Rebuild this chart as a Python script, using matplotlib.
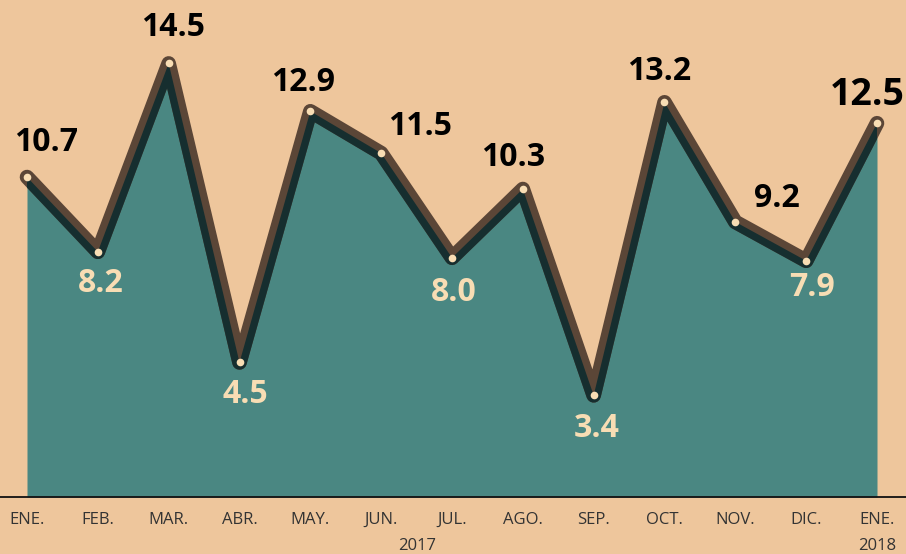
import matplotlib
matplotlib.use("Agg")
import matplotlib.pyplot as plt
import numpy as np

# ---------------------------------------------------------
# Data
# ---------------------------------------------------------
months = ["ENE.", "FEB.", "MAR.", "ABR.", "MAY.", "JUN.", "JUL.",
          "AGO.", "SEP.", "OCT.", "NOV.", "DIC.", "ENE."]
values = [10.7, 8.2, 14.5, 4.5, 12.9, 11.5, 8.0, 10.3, 3.4, 13.2, 9.2, 7.9, 12.5]
years = ["2017", "2018"]

# label placement (points offset from marker), above/below colour
label_offsets = [(14, 25), (2, -23), (3, 26), (4, -23), (-5, 21), (28, 19),
                 (1, -25), (-7, 23), (2, -24), (-4, 22), (30, 17), (4, -19), (-7, 20)]
label_below = [False, True, False, True, False, False, True,
               False, True, False, False, True, False]

BG = "#EEC69C"
FILL = "#4A8782"
BROWN = "#5B4637"
DARK = "#162E2F"
CREAM = "#F8DDB4"

plt.rcParams["font.family"] = ["Open Sans", "DejaVu Sans"]

fig = plt.figure(figsize=(9.06, 5.54), dpi=100, facecolor=BG)
ax = fig.add_axes([0, 57 / 554, 1, 497 / 554], facecolor=BG)

x = np.arange(len(values))
area = ax.fill_between(x, 0, values, color=FILL, lw=0, zorder=1)

# thick brown stroke; the half that lies inside the area is dark
ax.plot(x, values, color=BROWN, lw=10.5, solid_joinstyle="round",
        solid_capstyle="round", zorder=2)
inner, = ax.plot(x, values, color=DARK, lw=10.5, solid_joinstyle="round",
                 solid_capstyle="round", zorder=3)
inner.set_clip_path(area.get_paths()[0], ax.transData)
ax.plot(x, values, "o", color=CREAM, ms=5.5, mew=0, zorder=4)

for i, v in enumerate(values):
    dx, dy = label_offsets[i]
    last = i == len(values) - 1
    ax.annotate(f"{v:.1f}", (i, v), xytext=(dx, dy), textcoords="offset points",
                ha="center", va="center", fontweight="bold",
                fontsize=27 if last else 23,
                color=CREAM if label_below[i] else "black", zorder=5)

ax.set_xlim(-27 / 70.83, 12 + 29 / 70.83)
ax.set_ylim(0, 16.62)
ax.set_xticks(x)
ax.set_xticklabels(months, fontsize=12, color="#333333")
ax.tick_params(axis="x", length=0, pad=11)
ax.set_yticks([])
for s in ["left", "right", "top"]:
    ax.spines[s].set_visible(False)
ax.spines["bottom"].set_color("#111111")
ax.spines["bottom"].set_linewidth(1.3)

# year labels under JUN./JUL. and the last ENE.
fig.text(417 / 906, 1 - 546 / 554, years[0], ha="center", va="center",
         fontsize=12, color="#333333")
fig.text(877 / 906, 1 - 546 / 554, years[1], ha="center", va="center",
         fontsize=12, color="#333333")

fig.savefig("out.png", dpi=100, facecolor=BG)
